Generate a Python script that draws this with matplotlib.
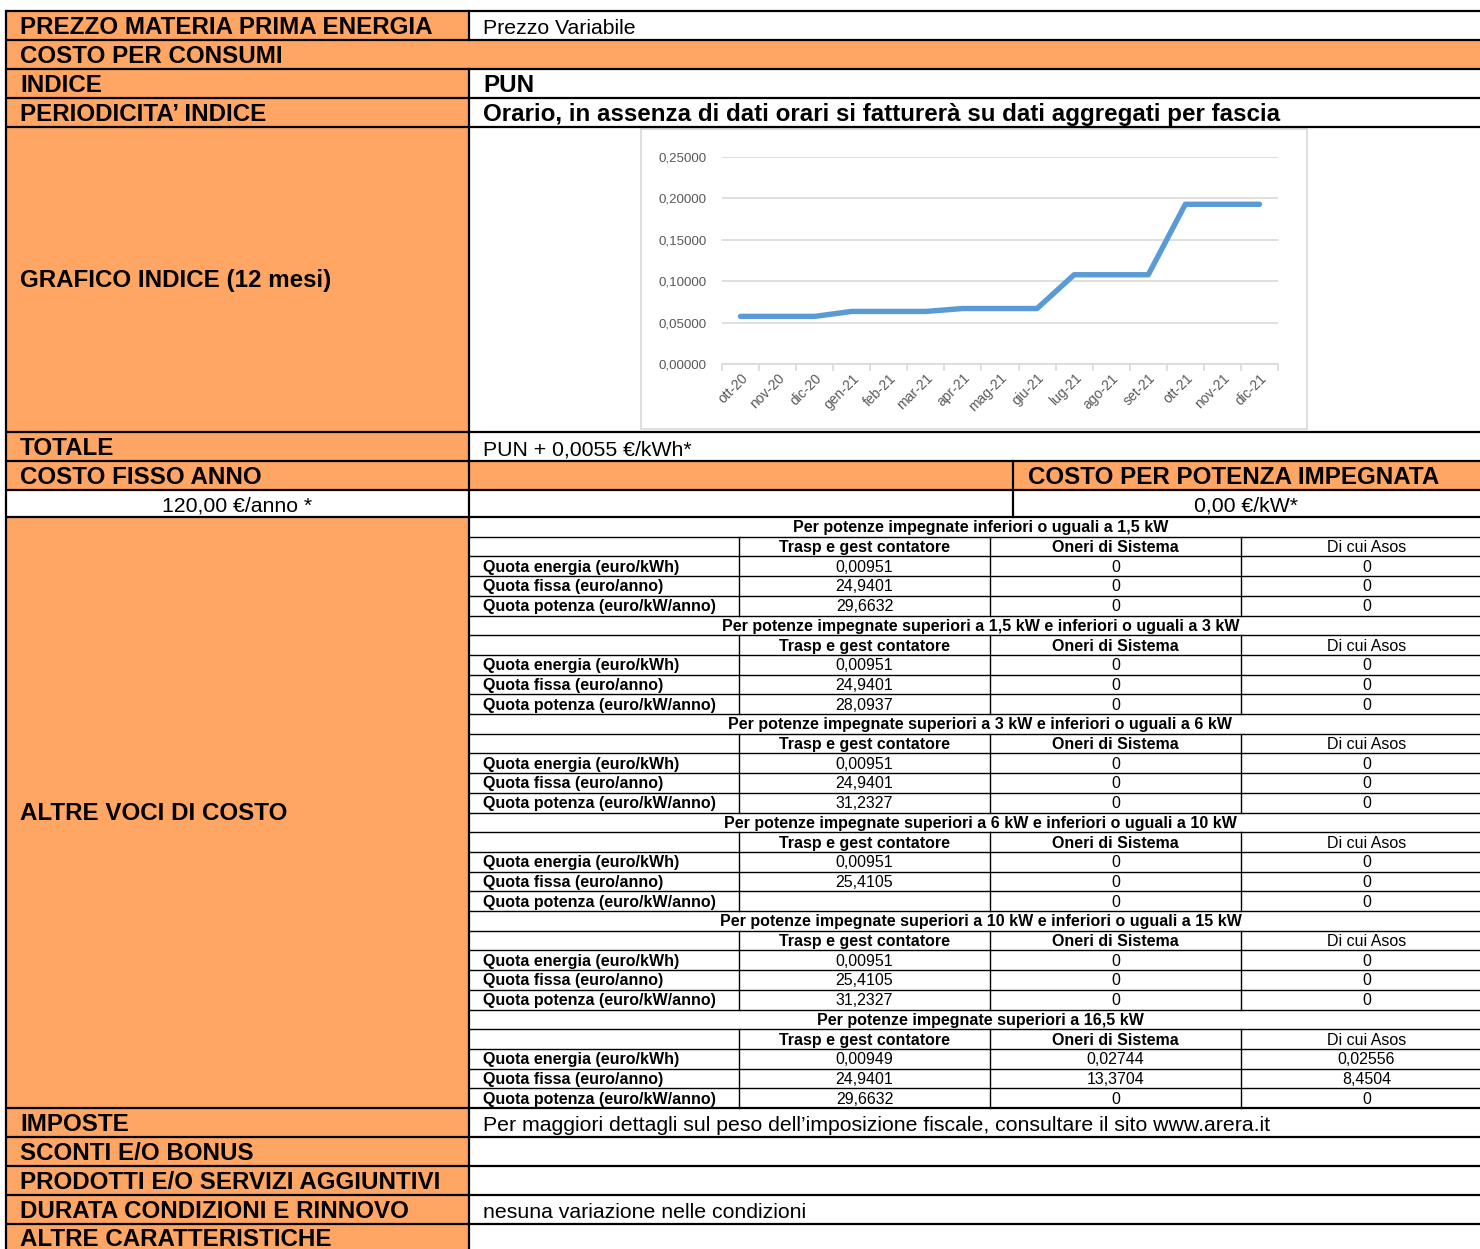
import matplotlib.pyplot as plt
import matplotlib.patches as mpatches
from matplotlib.ticker import FuncFormatter

plt.rcParams['font.family'] = ['Liberation Sans', 'DejaVu Sans']

# dati del grafico PUN (euro/kWh)
mesi = ['ott-20', 'nov-20', 'dic-20', 'gen-21', 'feb-21', 'mar-21', 'apr-21', 'mag-21',
        'giu-21', 'lug-21', 'ago-21', 'set-21', 'ott-21', 'nov-21', 'dic-21']
pun = [0.0575, 0.0575, 0.0575, 0.0635, 0.0635, 0.0635, 0.0670, 0.0670,
       0.0670, 0.1078, 0.1078, 0.1078, 0.1929, 0.1929, 0.1929]

# testi della tabella principale
voci = ['PREZZO MATERIA PRIMA ENERGIA', 'COSTO PER CONSUMI', 'INDICE', 'PERIODICITA\u2019 INDICE',
        'GRAFICO INDICE (12 mesi)', 'TOTALE', 'COSTO FISSO ANNO', '',
        'ALTRE VOCI DI COSTO', 'IMPOSTE', 'SCONTI E/O BONUS', 'PRODOTTI E/O SERVIZI AGGIUNTIVI',
        'DURATA CONDIZIONI E RINNOVO', 'ALTRE CARATTERISTICHE']
valori = ['Prezzo Variabile', '', 'PUN',
          'Orario, in assenza di dati orari si fatturerà su dati aggregati per fascia',
          '', 'PUN + 0,0055 €/kWh*', '', '', '',
          'Per maggiori dettagli sul peso dell\u2019imposizione fiscale, consultare il sito www.arera.it',
          '', '', 'nesuna variazione nelle condizioni', '']
valori_bold = [False, False, True, True, False, False, False, False, False,
               False, False, False, False, False]
costo_fisso = '120,00 €/anno *'
titolo_potenza = 'COSTO PER POTENZA IMPEGNATA'
costo_potenza = '0,00 €/kW*'

# sotto-tabella altre voci di costo
fasce = ['Per potenze impegnate inferiori o uguali a 1,5 kW',
         'Per potenze impegnate superiori a 1,5 kW e inferiori o uguali a 3 kW',
         'Per potenze impegnate superiori a 3 kW e inferiori o uguali a 6 kW',
         'Per potenze impegnate superiori a 6 kW e inferiori o uguali a 10 kW',
         'Per potenze impegnate superiori a 10 kW e inferiori o uguali a 15 kW',
         'Per potenze impegnate superiori a 16,5 kW']
colonne = ['Trasp e gest contatore', 'Oneri di Sistema', 'Di cui Asos']
quote = ['Quota energia (euro/kWh)', 'Quota fissa (euro/anno)', 'Quota potenza (euro/kW/anno)']
tariffe = [
    [['0,00951', '0', '0'], ['24,9401', '0', '0'], ['29,6632', '0', '0']],
    [['0,00951', '0', '0'], ['24,9401', '0', '0'], ['28,0937', '0', '0']],
    [['0,00951', '0', '0'], ['24,9401', '0', '0'], ['31,2327', '0', '0']],
    [['0,00951', '0', '0'], ['25,4105', '0', '0'], ['', '0', '0']],
    [['0,00951', '0', '0'], ['25,4105', '0', '0'], ['31,2327', '0', '0']],
    [['0,00949', '0,02744', '0,02556'], ['24,9401', '13,3704', '8,4504'], ['29,6632', '0', '0']],
]

arancio = '#FFA665'
W, H = 1480, 1249
fig = plt.figure(figsize=(W / 100, H / 100), dpi=100)
ax = fig.add_axes([0, 0, 1, 1])
ax.set_xlim(0, W)
ax.set_ylim(H, 0)
ax.axis('off')

# layout in pixel
x0, xdiv, xmid, xend = 6, 469, 1013, 1480
righe = [11, 40, 69, 98, 127, 432, 461, 490, 517, 1108, 1137, 1166, 1195, 1224, 1253]
fs_head = 17.4
fs_val = 15.3
fs_sub = 11.5

# sfondi arancioni
for i in range(len(voci)):
    y1, y2 = righe[i], righe[i + 1]
    if i != 7:
        ax.add_patch(mpatches.Rectangle((x0, y1), xdiv - x0, y2 - y1, color=arancio, lw=0))
    if i in (1, 6):
        ax.add_patch(mpatches.Rectangle((xdiv, y1), xend - xdiv, y2 - y1, color=arancio, lw=0))

# linee principali
for y in righe[:-1]:
    ax.plot([x0, xend], [y, y], color='black', lw=1.6, solid_capstyle='butt')
ax.plot([x0, x0], [righe[0], H], color='black', lw=1.6)
for i in range(len(voci)):
    if i != 1:
        ax.plot([xdiv, xdiv], [righe[i], righe[i + 1]], color='black', lw=1.6)
ax.plot([xmid, xmid], [righe[6], righe[8]], color='black', lw=1.6)

# testi principali
for i, (v, t) in enumerate(zip(voci, valori)):
    y1, y2 = righe[i], righe[i + 1]
    if y2 - y1 > 40:
        yb = (y1 + y2) / 2 + 7
    else:
        yb = min(y2 - 6, H - 3)
    if v:
        ax.text(20, yb, v, fontsize=fs_head, fontweight='bold', va='baseline')
    if t:
        ax.text(483, yb, t, va='baseline',
                fontsize=fs_head if valori_bold[i] else fs_val,
                fontweight='bold' if valori_bold[i] else 'normal')
ax.text(1028, righe[7] - 6, titolo_potenza, fontsize=fs_head, fontweight='bold', va='baseline')
ax.text((x0 + xdiv) / 2, righe[8] - 6, costo_fisso, fontsize=fs_val, ha='center', va='baseline')
ax.text((xmid + xend) / 2, righe[8] - 6, costo_potenza, fontsize=fs_val, ha='center', va='baseline')

# sotto-tabella (il bordo destro esce dall'immagine)
cols = [xdiv, 739, 990, 1241, 1492]
n_rows = len(fasce) * 5
rh = (righe[9] - righe[8]) / n_rows
for k in range(1, n_rows):
    y = righe[8] + k * rh
    ax.plot([xdiv, xend], [y, y], color='black', lw=1.0, solid_capstyle='butt')
for s, fascia in enumerate(fasce):
    ys = righe[8] + s * 5 * rh
    ax.text((cols[0] + cols[-1]) / 2, ys + rh / 2 + 5.5, fascia, fontsize=fs_sub,
            fontweight='bold', ha='center', va='baseline')
    for c in cols[1:4]:
        ax.plot([c, c], [ys + rh, ys + 5 * rh], color='black', lw=1.0)
    yh = ys + 1.5 * rh + 5.5
    for j, col in enumerate(colonne):
        ax.text((cols[j + 1] + cols[j + 2]) / 2, yh, col, fontsize=fs_sub, ha='center',
                va='baseline', fontweight='bold' if j < 2 else 'normal')
    for r, q in enumerate(quote):
        yr = ys + (r + 2.5) * rh + 5.5
        ax.text(483, yr, q, fontsize=fs_sub, fontweight='bold', va='baseline')
        for j, val in enumerate(tariffe[s][r]):
            ax.text((cols[j + 1] + cols[j + 2]) / 2, yr, val, fontsize=fs_sub,
                    ha='center', va='baseline')

# riquadro del grafico
ax.add_patch(mpatches.Rectangle((641, 129), 666, 300, fill=False, ec='#d9d9d9', lw=1.2))

# grafico PUN
px1, px2, py1, py2 = 722, 1278, 157, 364
cax = fig.add_axes([px1 / W, 1 - py2 / H, (px2 - px1) / W, (py2 - py1) / H])
cax.set_facecolor('none')
cax.plot(range(len(mesi)), pun, color='#5B9BD5', lw=3.9, solid_capstyle='round', zorder=3)
cax.set_xlim(-0.5, len(mesi) - 0.5)
cax.set_ylim(0, 0.25)
cax.set_yticks([0, 0.05, 0.10, 0.15, 0.20, 0.25])
cax.yaxis.set_major_formatter(FuncFormatter(lambda v, p: f'{v:.5f}'.replace('.', ',')))
cax.grid(axis='y', color='#d9d9d9', lw=1.2)
cax.set_axisbelow(True)
for sp in ['top', 'right', 'left']:
    cax.spines[sp].set_visible(False)
cax.spines['bottom'].set_color('#d9d9d9')
cax.spines['bottom'].set_linewidth(1.2)
cax.tick_params(axis='y', length=0, pad=11, labelsize=9.6, labelcolor='#595959')
cax.set_xticks([i - 0.5 for i in range(len(mesi) + 1)])
cax.set_xticklabels([])
cax.tick_params(axis='x', which='major', length=5, color='#d9d9d9', width=1.2)
cax.set_xticks(range(len(mesi)), minor=True)
cax.set_xticklabels(mesi, minor=True, rotation=45, ha='right', rotation_mode='anchor')
cax.tick_params(axis='x', which='minor', length=0, pad=5, labelsize=10, labelcolor='#595959')

fig.savefig('out.png', dpi=100)
